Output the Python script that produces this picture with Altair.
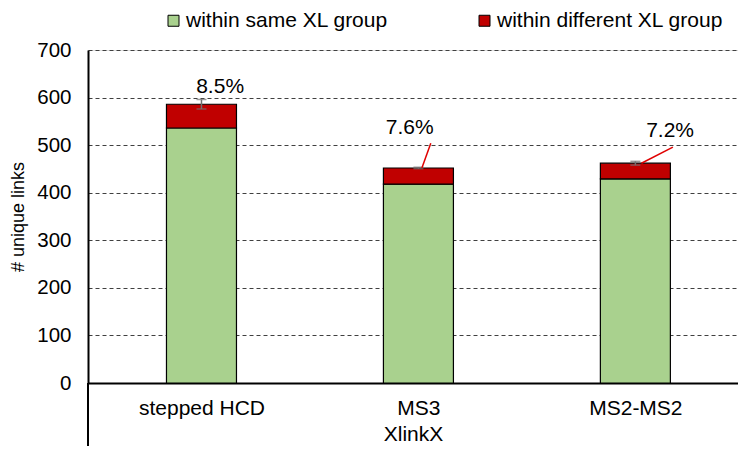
import altair as alt
import pandas as pd

categories = ["stepped HCD", "MS3", "MS2-MS2"]
same_group = [536, 418, 429]
diff_group = [50, 34, 33]
err = [10, 1.5, 4]
pct_labels = ["8.5%", "7.6%", "7.2%"]
series = ["within same XL group", "within different XL group"]
colors = ["#a9d18e", "#c00000"]

# layout of the percentage annotations (category-unit offset, y value)
label_dx = [0.086, -0.04, 0.16]
label_y = [622, 535, 529]
leader = [None, (0.057, 504, 0.016, 452), (0.173, 496, 0.028, 462)]

rows = []
for i, c in enumerate(categories):
    rows.append({"idx": i, "series": series[0], "value": same_group[i], "ord": 0})
    rows.append({"idx": i, "series": series[1], "value": diff_group[i], "ord": 1})
df = pd.DataFrame(rows)

tot = pd.DataFrame({
    "idx": list(range(3)),
    "total": [a + b for a, b in zip(same_group, diff_group)],
    "err": err,
})
tot["lo"] = tot["total"] - tot["err"]
tot["hi"] = tot["total"] + tot["err"]

lab = pd.DataFrame({
    "x": [i + d for i, d in enumerate(label_dx)],
    "y": label_y,
    "text": pct_labels,
})
lead_rows = []
for i, l in enumerate(leader):
    if l:
        lead_rows.append({"x": i + l[0], "y": l[1], "x2": i + l[2], "y2": l[3]})
lead = pd.DataFrame(lead_rows)

font = "Liberation Sans"
xscale = alt.Scale(domain=[-0.5, 2.45], nice=False, zero=False)
yscale = alt.Scale(domain=[0, 700], nice=False)

label_expr = "datum.value == 0 ? 'stepped HCD' : datum.value == 1 ? 'MS3' : 'MS2-MS2'"

bars = alt.Chart(df).mark_bar(size=70, stroke="black", strokeWidth=1.2).encode(
    x=alt.X("idx:Q", scale=xscale,
            axis=alt.Axis(values=[0, 1, 2], labelExpr=label_expr, title="XlinkX",
                          ticks=False, grid=False, domainColor="black", domainWidth=2,
                          labelFontSize=21, labelFont=font, labelColor="black", labelPadding=14,
                          labelFlush=False, labelOverlap=False,
                          titleFontSize=21, titleFont=font, titleFontWeight="normal",
                          titleColor="black", titlePadding=5)),
    y=alt.Y("value:Q", stack="zero", scale=yscale,
            axis=alt.Axis(values=list(range(0, 701, 100)), title="# unique links",
                          grid=True, gridDash=[4, 3], gridColor="#404040", gridWidth=1,
                          ticks=False, domainColor="black", domainWidth=2,
                          labelFontSize=20.5, labelFont=font, labelColor="black", labelPadding=17,
                          titleFontSize=18, titleFont=font, titleFontWeight="normal",
                          titleColor="black", titlePadding=9)),
    color=alt.Color("series:N", scale=alt.Scale(domain=series, range=colors),
                    legend=alt.Legend(title=None, orient="none", legendX=75, legendY=-40,
                                      direction="horizontal", columnPadding=86,
                                      symbolType="square", symbolSize=121,
                                      symbolStrokeColor="black", symbolStrokeWidth=1,
                                      labelFontSize=21, labelFont=font, labelColor="black",
                                      labelOffset=2, labelLimit=0)),
    order=alt.Order("ord:Q"),
)

errbar = alt.Chart(tot).mark_rule(color="#707070", strokeWidth=1.5).encode(
    x="idx:Q", y="lo:Q", y2="hi:Q")
cap_lo = alt.Chart(tot).mark_tick(color="#707070", orient="horizontal", size=10, thickness=1.5).encode(
    x="idx:Q", y="lo:Q")
cap_hi = alt.Chart(tot).mark_tick(color="#707070", orient="horizontal", size=10, thickness=1.5).encode(
    x="idx:Q", y="hi:Q")

leaders = alt.Chart(lead).mark_rule(color="#e00000", strokeWidth=1.5).encode(
    x="x:Q", y="y:Q", x2="x2:Q", y2="y2:Q")

texts = alt.Chart(lab).mark_text(fontSize=21, font=font, color="black", baseline="middle").encode(
    x="x:Q", y="y:Q", text="text:N")

left_ext = alt.Chart(pd.DataFrame({"a": [0]})).mark_rule(color="black", strokeWidth=2).encode(
    x=alt.value(0), y=alt.value(333), y2=alt.value(405))

chart = alt.layer(bars, errbar, cap_lo, cap_hi, leaders, texts, left_ext).properties(
    width=650, height=333,
    autosize=alt.AutoSizeParams(type="none"),
    padding={"left": 80, "top": 42, "right": 0, "bottom": 63},
).configure_view(stroke=None).configure(font=font)

chart.save("out.html", embed_options={"renderer": "svg", "actions": False})
